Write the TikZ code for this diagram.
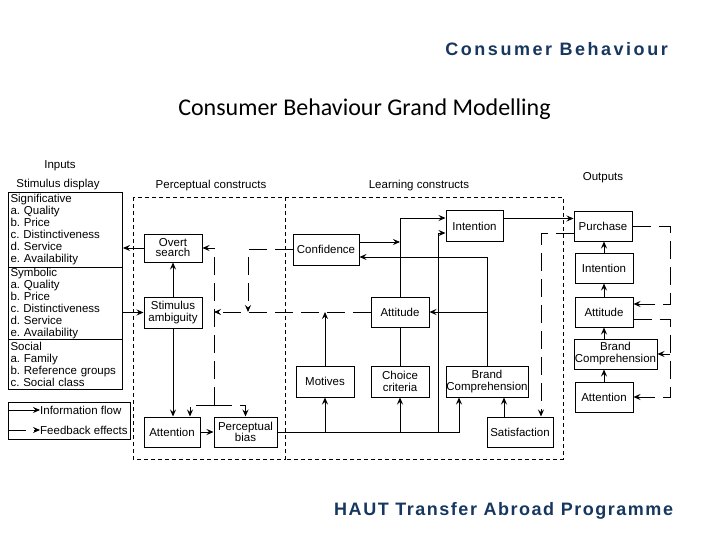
\documentclass[tikz,border=0pt]{standalone}
\usepackage{fontspec}
\setmainfont{Liberation Sans}
\newfontfamily\slidefont{Carlito}
\usetikzlibrary{arrows.meta,calc}
\definecolor{navy}{RGB}{23,55,94}
\newcommand{\diag}{\fontsize{11.5}{12}\selectfont}
\frenchspacing
\begin{document}
\begin{tikzpicture}[x=1pt,y=-1pt,
    box/.style={draw,line width=1pt,inner sep=0pt,align=center,font=\diag},
    tight/.style={font=\fontsize{11.5}{10}\selectfont},
    lab/.style={font=\diag,inner sep=0pt},
    flow/.style={line width=0.9pt,-{Stealth[length=7pt,width=6pt,inset=2.5pt]}},
    fb/.style={flow,dash pattern=on 18pt off 8pt},
    region/.style={line width=0.9pt,dash pattern=on 4pt off 3pt}]
  \useasboundingbox (0,0) rectangle (720,540);

  % slide headings
  \node[anchor=base east,inner sep=0pt,text=navy,
    font=\fontsize{18}{20}\selectfont\bfseries\addfontfeature{LetterSpace=14}] (head) at (668,56) {Consumer Behaviour};
  \node[anchor=base,inner sep=0pt,font=\fontsize{24}{28}\slidefont] (title) at (364.5,116) {Consumer Behaviour Grand Modelling};
  \node[anchor=base west,inner sep=0pt,text=navy,
    font=\fontsize{18}{20}\selectfont\bfseries\addfontfeature{LetterSpace=8.5}] (foot) at (334,515) {HAUT Transfer Abroad Programme};

  % column labels
  \node[lab] (inputs) at (60,166) {Inputs};
  \node[lab] (display) at (58,185) {Stimulus display};
  \node[lab] (perclab) at (211,186) {Perceptual constructs};
  \node[lab] (learnlab) at (419,186) {Learning constructs};
  \node[lab] (outputs) at (603,178) {Outputs};

  % construct regions
  \draw[region] (133,197) rectangle (285,459);
  \draw[region] (285,197) -- (563,197) -- (563,459) -- (285,459);

  % stimulus display
  \node[box,anchor=north west,text width=110pt,minimum height=75pt,inner xsep=2pt,align=left] (sig) at (8,192)
    {Significative\\a. Quality\\b. Price\\c. Distinctiveness\\d. Service\\e. Availability};
  \node[box,anchor=north west,text width=110pt,minimum height=72pt,inner xsep=2pt,align=left] (sym) at (8,267)
    {Symbolic\\a. Quality\\b. Price\\c. Distinctiveness\\d. Service\\e. Availability};
  \node[box,anchor=north west,text width=110pt,minimum height=50pt,inner xsep=2pt,align=left] (soc) at (8,339)
    {Social\\a. Family\\b. Reference groups\\c. Social class};

  % legend
  \node[draw,line width=1pt,minimum width=122pt,minimum height=37pt,inner sep=0pt] (legend) at (69,420.5) {};
  \node[lab,anchor=west] (info) at (40,410) {Information flow};
  \node[lab,anchor=west] (feed) at (40,430) {Feedback effects};

  % perceptual constructs
  \node[box,tight,minimum width=58pt,minimum height=28pt] (overt) at (173,248) {Overt\\search};
  \node[box,minimum width=58pt,minimum height=31pt] (ambig) at (173,312.5) {Stimulus\\ambiguity};
  \node[box,minimum width=56pt,minimum height=30pt] (attnP) at (172,432) {Attention};
  \node[box,tight,minimum width=63pt,minimum height=30pt] (bias) at (245.5,432) {Perceptual\\bias};

  % learning constructs
  \node[box,minimum width=66pt,minimum height=31pt] (conf) at (326,249.5) {Confidence};
  \node[box,minimum width=57pt,minimum height=30pt] (intL) at (474.5,226) {Intention};
  \node[box,minimum width=58pt,minimum height=30pt] (attL) at (400,312) {Attitude};
  \node[box,minimum width=58pt,minimum height=31pt] (motives) at (325,381.5) {Motives};
  \node[box,minimum width=58pt,minimum height=31pt] (choice) at (400,381.5) {Choice\\criteria};
  \node[box,minimum width=82pt,minimum height=31pt] (brandL) at (487,381.5) {Brand\\Comprehension};
  \node[box,minimum width=66pt,minimum height=30pt] (satis) at (520,432) {Satisfaction};

  % outputs
  \node[box,minimum width=58pt,minimum height=29pt] (purchase) at (603,226.5) {Purchase};
  \node[box,minimum width=58pt,minimum height=30pt] (intO) at (604,268) {Intention};
  \node[box,minimum width=58pt,minimum height=30pt] (attO) at (604,312) {Attitude};
  \node[box,minimum width=83pt,minimum height=30pt] (brandO) at (615.5,354) {Brand\\Comprehension};
  \node[box,minimum width=58pt,minimum height=30pt] (attnO) at (604,397) {Attention};

  % junctions
  \coordinate (knee) at (248,312);
  \coordinate (spineMid) at (214,312);
  \coordinate (spineBot) at (214,405);
  \coordinate (busA) at (459,432);
  \coordinate (busB) at (438,432);
  \coordinate (fbR) at (670,0);
  \coordinate (intLow) at ($(intL.west)+(0,7)$);
  \coordinate (intHigh) at ($(intL.west)+(0,-8)$);
  \coordinate (confOut) at ($(conf.east)+(0,-7.5)$);
  \coordinate (confIn) at ($(conf.east)+(0,7.5)$);
  \coordinate (satUp) at ($(satis.north)+(-16,0)$);
  \coordinate (buyIn) at ($(purchase.west)+(0,-8)$);
  \coordinate (buyOut) at ($(purchase.west)+(0,7)$);
  \coordinate (attOin) at ($(attO.east)+(0,-8)$);
  \coordinate (attOout) at ($(attO.east)+(0,7)$);

  % information flow
  \draw[flow] (legend.west |- info.west) -- (info.west);
  \draw[flow] (overt.west) -- (overt.west -| sig.east);
  \draw[flow] (ambig.west -| sym.east) -- (ambig.west);
  \draw[flow] (ambig.north) -- (overt.south);
  \draw[flow] (ambig.south) -- (ambig.south |- attnP.north);
  \draw[flow] (attnP.east) -- (bias.west);
  \draw[flow] (bias.east) -- (busA) -- (busA |- brandL.south);
  \draw[flow] (motives.south |- busA) -- (motives.south);
  \draw[flow] (choice.south |- busA) -- (choice.south);
  \draw[flow] (busB) |- (intLow);
  \draw[flow] (attL.north) |- (intHigh);
  \draw[flow] (confOut) -- (confOut -| attL.north);
  \draw[flow] (brandL.north) |- (confIn);
  \draw[flow] (brandL.north |- attL.east) -- (attL.east);
  \draw[line width=0.9pt] (choice.north) -- (attL.south);
  \draw[flow] (motives.north) -- (motives.north |- attL.west);
  \draw[flow] (satUp) -- (satUp |- brandL.south);
  \draw[flow] (buyIn -| intL.east) -- (buyIn);
  \draw[flow] (intO.north) -- (intO.north |- purchase.south);
  \draw[flow] (attO.north) -- (intO.south);
  \draw[flow] (attO.south |- brandO.north) -- (attO.south);
  \draw[flow] (attnO.north) -- (attnO.north |- brandO.south);

  % feedback effects
  \draw[fb] (legend.west |- feed.west) -- (feed.west);
  \draw[fb] (conf.west) -| (knee);
  \draw[fb] (attL.west) -- (spineMid);
  \draw[fb] (spineBot) |- (overt.east);
  \draw[fb] (spineBot) -| ($(attnP.north)+(18,0)$);
  \draw[fb] (spineBot) -| (bias.north);
  \draw[fb] (buyOut) -| ($(satis.north)+(21,0)$);
  \draw[fb] (purchase.east) -| (fbR |- attOin) -- (attOin);
  \draw[fb] (attOout) -| (fbR |- attnO.east) -- (attnO.east);
  \draw[fb] (fbR |- brandO.east) -- (brandO.east);
\end{tikzpicture}
\end{document}
